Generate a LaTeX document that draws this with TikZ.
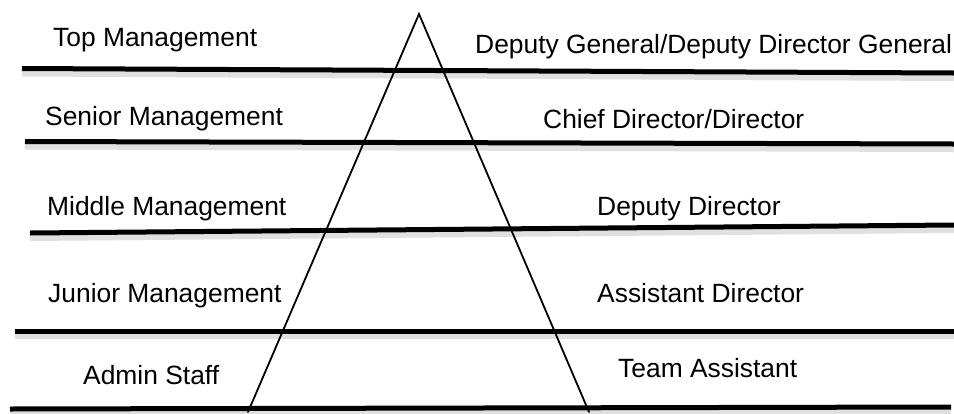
\documentclass[tikz,border=0pt]{standalone}
\usepackage{fontspec}
\setmainfont{Liberation Sans}
\begin{document}
\begin{tikzpicture}[x=1pt,y=-1pt,
  label/.style={anchor=base west,inner sep=0pt,font=\fontsize{26.4}{30}\selectfont},
  rule/.style={line width=5pt,black},
  ruleshade/.style={line width=6pt,black!12},
  side/.style={line width=1.8pt,black,line cap=round}]
\useasboundingbox (0,0) rectangle (954,413);

% level boundaries (end points)
\coordinate (r1a) at (22,68.5);  \coordinate (r1b) at (954,73);
\coordinate (r2a) at (25,141.5); \coordinate (r2b) at (954,144);
\coordinate (r3a) at (30,233);   \coordinate (r3b) at (954,225);
\coordinate (r4a) at (15,331);   \coordinate (r4b) at (954,331);
\coordinate (r5a) at (10,409);   \coordinate (r5b) at (951,407);

% soft shading under each boundary
\foreach \a/\b in {r1a/r1b,r2a/r2b,r3a/r3b,r4a/r4b,r5a/r5b}
  \draw[ruleshade] ([yshift=-5pt]\a) -- ([yshift=-5pt]\b);
\foreach \a/\b in {r1a/r1b,r2a/r2b,r3a/r3b,r4a/r4b,r5a/r5b}
  \draw[rule] (\a) -- (\b);

% pyramid
\coordinate (apex) at (419,14);
\coordinate (baseL) at (248,412);
\coordinate (baseR) at (589,412);
\draw[side] (baseL) -- (apex) -- (baseR);

% level names
\node[label] (top)   at (53,46.7)  {Top Management};
\node[label] (sen)   at (45,125)   {Senior Management};
\node[label] (mid)   at (47,215)   {Middle Management};
\node[label] (jun)   at (48,302)   {Junior Management};
\node[label] (adm)   at (83,384)   {Admin Staff};

% position titles
\node[label] (ddg)   at (475,53)   {Deputy General/Deputy Director General};
\node[label] (cd)    at (543,128)  {Chief Director/Director};
\node[label] (dd)    at (597,215)  {Deputy Director};
\node[label] (ad)    at (597,302)  {Assistant Director};
\node[label] (ta)    at (618,377)  {Team Assistant};
\end{tikzpicture}
\end{document}
